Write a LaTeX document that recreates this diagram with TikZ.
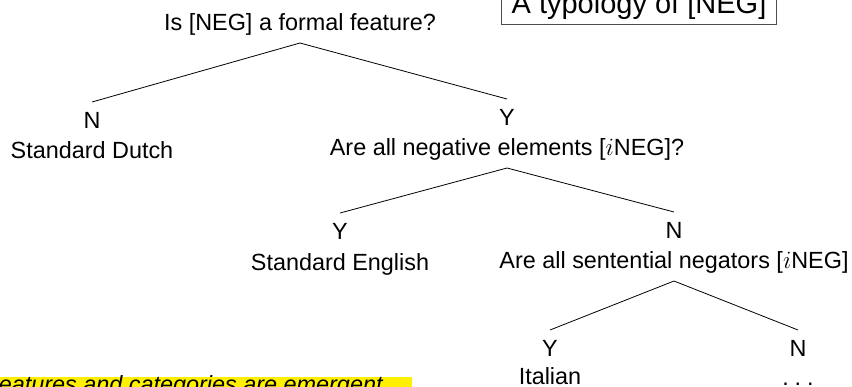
\documentclass[tikz,border=0pt]{standalone}
\usepackage{fontspec}
\setmainfont{Liberation Sans}
\usetikzlibrary{positioning}
\definecolor{notebg}{RGB}{255,240,0}
\newcommand{\treefont}{\fontsize{23.4}{28}\selectfont}
\newcommand{\titlefont}{\fontsize{29}{34}\selectfont}

\begin{document}
\begin{tikzpicture}[x=1pt, y=-1pt, line width=0.8pt, every node/.style={inner sep=0pt, font=\treefont}, ans/.style={anchor=base, text height=17pt, outer ysep=9pt}, qst/.style={anchor=base, text depth=6pt, outer ysep=7pt}, leaf/.style={anchor=base}]
\useasboundingbox (0,0) rectangle (852,386);
\clip (0,0) rectangle (852,386);
% title box, cut at the top
\node[draw=black!70, line width=1pt, font=\titlefont, inner xsep=10pt, inner ysep=5pt, text depth=6pt, anchor=base] (title) at (639,13) {A typology of [NEG]};
% first question
\node[qst] (q1) at (300,30) {Is [NEG] a formal feature?};
\node[ans] (a1n) at (92,128) {N};
\node[leaf, below=30pt of a1n.base, anchor=base] (dutch) {Standard Dutch};
\node[ans] (a1y) at (507,125) {Y};
\node[qst, below=30pt of a1y.base, anchor=base] (q2) {Are all negative elements [$i$NEG]?};
% second question
\node[ans] (a2y) at (340,239) {Y};
\node[leaf, below=31pt of a2y.base, anchor=base] (english) {Standard English};
\node[ans] (a2n) at (674,238) {N};
\node[qst, below=30pt of a2n.base, anchor=base] (q3) {Are all sentential negators [$i$NEG]};
% third question
\node[ans] (a3y) at (550,356) {Y};
\node[leaf, below=28pt of a3y.base, anchor=base] (italian) {Italian};
\node[ans] (a3n) at (798,356) {N};
\node[leaf, below=29pt of a3n.base, anchor=base] (rest) {.\kern0.25em.\kern0.25em.};
\draw (q1.south) -- (a1n.north);
\draw (q1.south) -- (a1y.north);
\draw (q2.south) -- (a2y.north);
\draw (q2.south) -- (a2n.north);
\draw (q3.south) -- (a3y.north);
\draw (q3.south) -- (a3n.north);
% note, cut at the bottom
\node[anchor=base east, fill=notebg, font=\treefont\itshape, inner xsep=29pt, text height=15pt] (note) at (412,392) {Features and categories are emergent};
\end{tikzpicture}
\end{document}
